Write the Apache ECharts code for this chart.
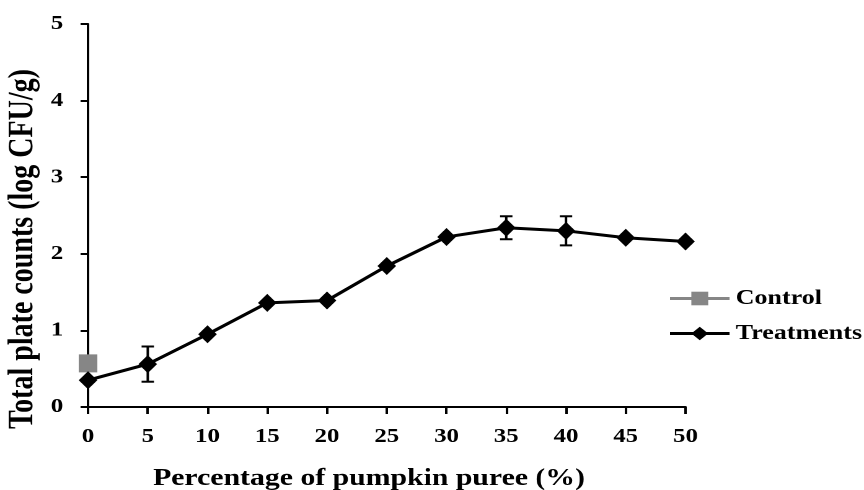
<!DOCTYPE html>
<html>
<head>
<meta charset="utf-8">
<script src="https://cdn.jsdelivr.net/npm/echarts@6/dist/echarts.min.js"></script>
<style>
html,body{margin:0;padding:0;background:#fff;overflow:hidden;}
#wrap{width:864px;height:490px;overflow:hidden;}
#c{width:697px;height:490px;transform:scaleX(1.2396);transform-origin:0 0;}
</style>
</head>
<body>
<div id="wrap"><div id="c"></div></div>
<script>
const xTicks = [0, 5, 10, 15, 20, 25, 30, 35, 40, 45, 50];
const yTicks = [0, 1, 2, 3, 4, 5];
const treatmentX = [0, 5, 10, 15, 20, 25, 30, 35, 40, 45, 50];
const treatmentY = [0.35, 0.56, 0.95, 1.36, 1.39, 1.84, 2.22, 2.34, 2.30, 2.21, 2.16];
const treatmentErr = [0, 0.23, 0, 0, 0, 0, 0, 0.15, 0.19, 0, 0];
const controlX = [0];
const controlY = [0.57];
const seriesNames = ['Control', 'Treatments'];
const xTitle = 'Percentage of pumpkin puree (%)';
const yTitle = 'Total plate counts (log CFU/g)';

const font = '"Liberation Serif", "Times New Roman", serif';
const chart = echarts.init(document.getElementById('c'), null, { devicePixelRatio: 2 });

const treatmentData = treatmentX.map((x, i) => [x, treatmentY[i]]);
const controlData = controlX.map((x, i) => [x, controlY[i]]);
const errData = treatmentX
  .map((x, i) => [x, treatmentY[i] - treatmentErr[i], treatmentY[i] + treatmentErr[i]])
  .filter((d, i) => treatmentErr[i] > 0);

chart.setOption({
  animation: false,
  backgroundColor: '#fff',
  grid: { left: 71, right: 144, top: 24, bottom: 83, containLabel: false },
  legend: {
    orient: 'vertical',
    left: 534,
    top: 283,
    itemGap: 14,
    itemWidth: 48,
    itemHeight: 17,
    data: seriesNames,
    lineStyle: { width: 3 },
    textStyle: { fontFamily: font, fontWeight: 'bold', fontSize: 21, color: '#000' }
  },
  graphic: [
    {
      type: 'text',
      x: 297.7, y: 479,
      style: { text: xTitle, fontFamily: font, fontWeight: 'bold', fontSize: 24, fill: '#000',
        textAlign: 'center', textVerticalAlign: 'middle', verticalAlign: 'middle' }
    },
    {
      type: 'text',
      x: 19, y: 249,
      rotation: Math.PI / 2,
      style: { text: yTitle, fontFamily: font, fontWeight: 'bold', fontSize: 28, fill: '#000',
        textAlign: 'center', textVerticalAlign: 'middle', verticalAlign: 'middle' }
    }
  ],
  xAxis: {
    type: 'value',
    min: 0, max: 50, interval: 5,
    axisLine: { show: true, lineStyle: { color: '#000', width: 2 } },
    axisTick: { show: true, length: 7, lineStyle: { color: '#000', width: 2 } },
    axisLabel: { margin: 20, fontFamily: font, fontWeight: 'bold', fontSize: 20, color: '#000',
      formatter: v => xTicks.includes(v) ? String(v) : '' },
    splitLine: { show: false }
  },
  yAxis: {
    type: 'value',
    min: 0, max: 5, interval: 1,
    axisLine: { show: true, lineStyle: { color: '#000', width: 2 } },
    axisTick: { show: true, length: 6, lineStyle: { color: '#000', width: 2 } },
    axisLabel: { margin: 20, fontFamily: font, fontWeight: 'bold', fontSize: 20, color: '#000',
      formatter: v => yTicks.includes(v) ? String(v) : '' },
    splitLine: { show: false }
  },
  series: [
    {
      name: 'Treatments',
      type: 'line',
      data: treatmentData,
      symbol: 'diamond',
      symbolSize: [15, 18],
      itemStyle: { color: '#000' },
      lineStyle: { color: '#000', width: 3 },
      z: 3
    },
    {
      name: 'Control',
      type: 'line',
      data: controlData,
      symbol: 'rect',
      symbolSize: [15, 18],
      itemStyle: { color: '#868686' },
      lineStyle: { color: '#868686', width: 3 },
      z: 2
    },
    {
      type: 'custom',
      name: 'err',
      data: errData,
      z: 4,
      renderItem: function (params, api) {
        const x = api.value(0);
        const lo = api.coord([x, api.value(1)]);
        const hi = api.coord([x, api.value(2)]);
        const w = 5;
        const st = { stroke: '#000', lineWidth: 2 };
        return {
          type: 'group',
          children: [
            { type: 'line', shape: { x1: lo[0], y1: lo[1], x2: hi[0], y2: hi[1] }, style: st },
            { type: 'line', shape: { x1: lo[0] - w, y1: lo[1], x2: lo[0] + w, y2: lo[1] }, style: st },
            { type: 'line', shape: { x1: hi[0] - w, y1: hi[1], x2: hi[0] + w, y2: hi[1] }, style: st }
          ]
        };
      }
    }
  ]
});
</script>
</body>
</html>
